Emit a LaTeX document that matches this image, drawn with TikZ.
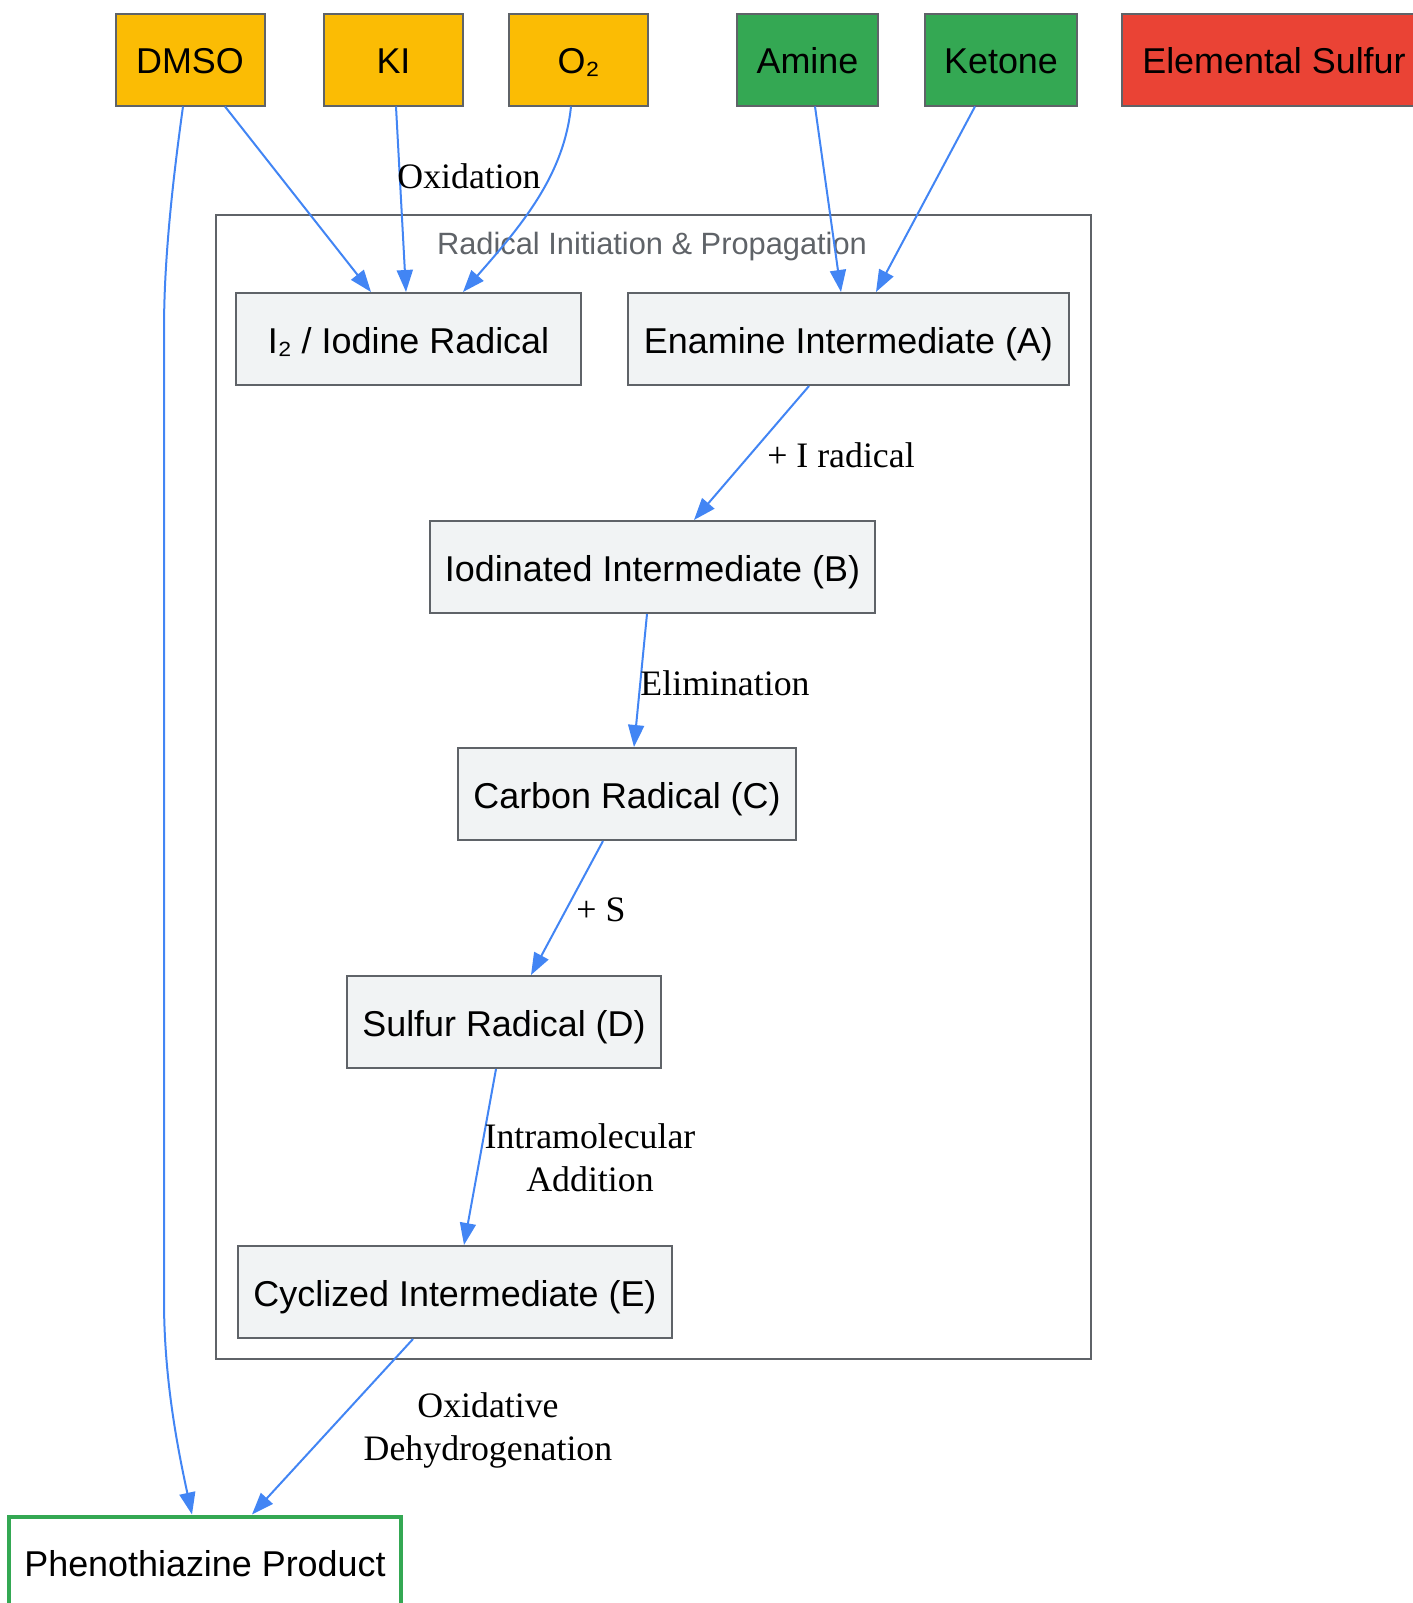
\documentclass[tikz,border=0pt]{standalone}
\usepackage{fontspec}
\setmainfont{Liberation Serif}
\setsansfont{Liberation Sans}
\usetikzlibrary{arrows.meta}
\definecolor{gyellow}{HTML}{FBBC04}
\definecolor{ggreen}{HTML}{34A853}
\definecolor{gred}{HTML}{EA4335}
\definecolor{gboxfill}{HTML}{F1F3F4}
\definecolor{gborder}{HTML}{5F6368}
\definecolor{gblue}{HTML}{4285F4}
\tikzset{
  box/.style={draw=gborder, line width=1pt, rectangle, inner sep=0pt, minimum height=46pt,
    text height=16pt, text depth=1.6pt,
    font=\sffamily\fontsize{17.95}{21.5}\selectfont, text=black},
  reagent/.style={box, fill=gyellow},
  substrate/.style={box, fill=ggreen},
  sulfur/.style={box, fill=gred},
  inter/.style={box, fill=gboxfill},
  product/.style={box, draw=ggreen, line width=2pt, fill=white},
  cluster/.style={draw=gborder, line width=1pt},
  clusterlabel/.style={font=\sffamily\fontsize{15.4}{18}\selectfont, text=gborder},
  elabel/.style={font=\rmfamily\fontsize{17.9}{21.5}\selectfont, align=center, inner sep=0pt},
  conn/.style={draw=gblue, line width=1pt, -{Triangle[length=11pt,width=8pt]}},
}
\begin{document}
\begin{tikzpicture}[x=0.5pt, y=-0.5pt]
\useasboundingbox (0,0) rectangle (1413,1603);
% cluster
\draw[cluster] (215.7,214.7) rectangle (1091,1358.8);
\node[clusterlabel] (clab) at (652,247) {Radical Initiation \& Propagation};
% top nodes
\node[reagent, minimum width=74.5pt] (dmso) at (190,59.5) {DMSO};
\node[reagent, minimum width=69.5pt] (ki) at (393.5,59.5) {KI};
\node[reagent, minimum width=69.5pt] (o2) at (578.5,59.5) {O₂};
\node[substrate, minimum width=70.5pt] (amine) at (807.5,59.5) {Amine};
\node[substrate, minimum width=76pt] (ketone) at (1001,59.5) {Ketone};
\node[sulfur, minimum width=152pt] (sulf) at (1274,59.5) {Elemental Sulfur};
% intermediates
\node[inter, minimum width=172.5pt] (i2) at (408.5,339) {I₂ / Iodine Radical};
\node[inter, minimum width=220.5pt] (ena) at (848.5,339) {Enamine Intermediate (A)};
\node[inter, minimum width=222.5pt] (iod) at (652.5,567) {Iodinated Intermediate (B)};
\node[inter, minimum width=169pt] (carb) at (627,794) {Carbon Radical (C)};
\node[inter, minimum width=157pt] (sr) at (504,1022) {Sulfur Radical (D)};
\node[inter, minimum width=217pt] (cyc) at (455,1292) {Cyclized Intermediate (E)};
\node[product, minimum width=196pt] (prod) at (205,1562.5) {Phenothiazine Product};
% edges
\draw[conn] ([xshift=17.5pt]dmso.south) -- ([xshift=-18.75pt]i2.north);
\draw[conn] ([xshift=1.25pt]ki.south) -- ([xshift=-1.25pt]i2.north);
\draw[conn] ([xshift=-3.75pt]o2.south) .. controls (564,175) and (522,225) .. ([xshift=27.25pt]i2.north);
\node[elabel] (loxi) at (469,176) {Oxidation};
\draw[conn] ([xshift=3.75pt]amine.south) -- ([xshift=-3.75pt]ena.north);
\draw[conn] ([xshift=-13pt]ketone.south) -- ([xshift=13.75pt]ena.north);
\draw[conn] ([xshift=-19.75pt]ena.south) -- ([xshift=20.75pt]iod.north);
\node[elabel] (lirad) at (841,455) {+ I radical};
\draw[conn] ([xshift=-2.75pt]iod.south) -- ([xshift=3.5pt]carb.north);
\node[elabel] (lelim) at (725,683) {Elimination};
\draw[conn] ([xshift=-12pt]carb.south) -- ([xshift=13.5pt]sr.north);
\node[elabel] (ls) at (601,910) {+ S};
\draw[conn] ([xshift=-4pt]sr.south) -- ([xshift=4.5pt]cyc.north);
\node[elabel] (lintra) at (590,1158) {Intramolecular\\Addition};
\draw[conn] ([xshift=-21pt]cyc.south) -- ([xshift=23.5pt]prod.north);
\node[elabel] (lox) at (488,1430) {Oxidative\\Dehydrogenation};
\coordinate (vtop) at (164,330);
\coordinate (vbot) at (164,1300);
\draw[conn] ([xshift=-3.5pt]dmso.south) .. controls (170,200) and (164,270) .. (vtop) -- (vbot) .. controls (164,1380) and (178,1450) .. ([xshift=-6.5pt]prod.north);
\end{tikzpicture}
\end{document}
